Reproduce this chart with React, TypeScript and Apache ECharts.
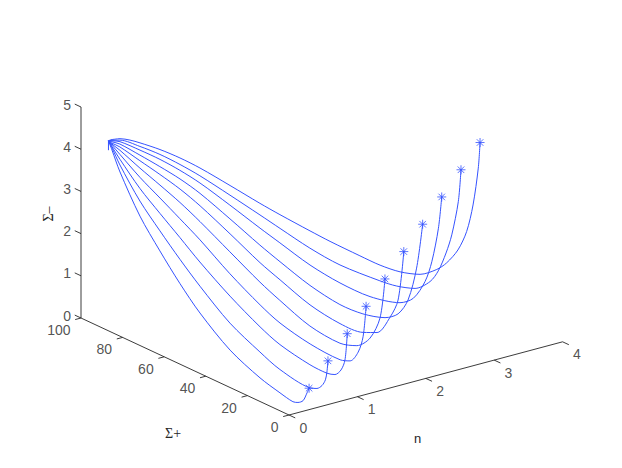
import React, { useEffect, useRef } from "react";
import * as echarts from "echarts";

type P3 = [number, number, number]; // n, Sigma+, Sigma-

const startStub: P3[] = [[0,86.8,4.28],[0,86.8,4.5]];

const curve1: P3[] = [[0,86.8,4.5],[.005,85.3,4.32],[.017,81.8,3.87],[.047,73.2,3.01],[.077,64.6,2.37],[.107,55.9,1.78],[.137,47.3,1.27],[.182,34.3,.67],[.227,21.4,.29],[.257,12.8,.12],[.276,7.2,.03],[.283,5.0,.06],[.291,2.8,.15],[.297,1.1,.37],[.3,.2,.5]];
const curve2: P3[] = [[0,86.8,4.5],[.01,85.4,4.36],[.031,82.3,4.02],[.086,74.5,3.32],[.141,66.7,2.77],[.195,58.8,2.25],[.25,51,1.77],[.332,39.3,1.13],[.414,27.6,.68],[.469,19.8,.42],[.551,8,.22],[.57,5.3,.26],[.583,3.3,.37],[.593,2,.53],[.597,1.4,.73],[.6,1,1]];
const curve3: P3[] = [[0,86.8,4.5],[.013,85.6,4.39],[.043,82.7,4.14],[.119,75.6,3.58],[.194,68.4,3.12],[.269,61.3,2.68],[.345,54.2,2.23],[.458,43.4,1.62],[.571,32.7,1.09],[.646,25.6,.8],[.759,14.9,.52],[.824,8.8,.43],[.854,6,.45],[.876,3.8,.6],[.891,2.4,.86],[.9,1.6,1.5]];
const curve4: P3[] = [[0,86.8,4.5],[.016,85.7,4.42],[.054,83,4.24],[.147,76.5,3.81],[.24,69.9,3.43],[.333,63.4,3.05],[.426,56.8,2.66],[.566,47,2.02],[.706,37.1,1.45],[.799,30.6,1.13],[.939,20.7,.8],[1.079,10.9,.59],[1.125,7.6,.62],[1.163,5,.87],[1.186,3.4,1.26],[1.2,2.4,2]];
const curve5: P3[] = [[0,86.8,4.5],[.019,85.7,4.44],[.062,83.3,4.33],[.171,77.3,4],[.279,71.2,3.69],[.388,65.2,3.37],[.496,59.1,3.01],[.659,50.1,2.43],[.822,41,1.85],[.93,35,1.51],[1.093,25.9,1.04],[1.256,16.8,.77],[1.348,11.7,.79],[1.419,7.7,1.03],[1.473,4.7,1.55],[1.5,3.2,2.5]];
const curve6: P3[] = [[0,86.8,4.5],[.021,85.8,4.46],[.07,83.6,4.4],[.192,78,4.15],[.314,72.4,3.9],[.436,66.7,3.63],[.558,61.1,3.31],[.741,52.7,2.76],[.924,44.3,2.19],[1.046,38.7,1.86],[1.229,30.3,1.38],[1.412,21.9,1.05],[1.552,15.4,.93],[1.637,11.5,.98],[1.717,7.8,1.4],[1.765,5.6,1.83],[1.8,4,3]];
const curve7: P3[] = [[0,86.8,4.5],[.023,85.9,4.49],[.077,83.8,4.46],[.211,78.6,4.26],[.344,73.4,4.05],[.478,68.1,3.82],[.612,62.9,3.54],[.812,55.1,3.03],[1.013,47.3,2.5],[1.146,42,2.17],[1.347,34.2,1.7],[1.547,26.4,1.34],[1.701,20.4,1.19],[1.848,14.6,1.17],[1.935,11.2,1.3],[2.002,8.6,1.66],[2.06,6.4,2.44],[2.1,4.8,3.5]];
const curve8: P3[] = [[0,86.8,4.5],[.025,85.9,4.51],[.083,84,4.51],[.227,79.1,4.36],[.371,74.2,4.19],[.515,69.4,3.98],[.659,64.5,3.73],[.875,57.2,3.28],[1.091,49.8,2.81],[1.235,45,2.51],[1.451,37.6,2.06],[1.667,30.3,1.71],[1.884,23,1.46],[2.1,15.7,1.39],[2.195,12.4,1.53],[2.28,9.6,1.95],[2.328,7.9,2.44],[2.376,6.3,3.25],[2.4,5.5,4]];
const curve9: P3[] = [[0,86.8,4.5],[.027,86,4.52],[.088,84.2,4.54],[.241,79.6,4.43],[.394,75,4.28],[.548,70.4,4.08],[.701,65.9,3.85],[.931,59,3.45],[1.16,52.1,3.04],[1.314,47.5,2.76],[1.543,40.7,2.35],[1.773,33.8,2.01],[2.08,24.7,1.71],[2.208,20.8,1.62],[2.348,16.6,1.6],[2.463,13.2,1.79],[2.526,11.3,2.06],[2.585,9.5,2.5],[2.629,8.2,2.94],[2.679,6.7,3.74],[2.7,6.1,4.5]];
const curve10: P3[] = [[0,86.8,4.5],[.02,86.3,4.53],[.052,85.4,4.55],[.093,84.3,4.57],[.174,82.2,4.55],[.254,80,4.5],[.416,75.7,4.37],[.577,71.4,4.2],[.739,67.1,3.99],[.981,60.6,3.62],[1.223,54.2,3.24],[1.385,49.9,3],[1.627,43.4,2.66],[1.789,39.1,2.44],[2.031,32.7,2.14],[2.192,28.3,1.95],[2.354,24,1.82],[2.515,19.7,1.79],[2.65,16.1,1.93],[2.731,14,2.1],[2.822,11.6,2.42],[2.892,9.7,2.87],[2.943,8.3,3.51],[2.986,7.2,4.39],[3,6.8,5]];

const curves = [curve1, curve2, curve3, curve4, curve5, curve6, curve7, curve8, curve9, curve10];

const nTicks = [0, 1, 2, 3, 4];
const sigmaPlusTicks = [0, 20, 40, 60, 80, 100];
const sigmaMinusTicks = [0, 1, 2, 3, 4, 5];

const BLUE = "#3553ff";
const INK = "#262626";
const FONT = "'Liberation Sans', Arial, sans-serif";

// Orthographic view of the 3-D box onto the page plane
const project = (n: number, s: number, z: number): [number, number] => [
  289 + 68.4 * n - 2.08 * s,
  415 - 18.3 * n - 0.97 * s - 42.2 * z,
];

const STAR =
  "path://M0 -4L0 4M-4 0L4 0M-2.9 -2.9L2.9 2.9M-2.9 2.9L2.9 -2.9";

const axisSeg = (a: P3, b: P3) => ({
  type: "line",
  data: [project(...a), project(...b)],
  showSymbol: false,
  silent: true,
  lineStyle: { color: INK, width: 0.9 },
});

const labels = (items: { p: [number, number]; text: string }[], align: string, offset: number[]) => ({
  type: "scatter",
  symbolSize: 1,
  silent: true,
  itemStyle: { color: "transparent" },
  data: items.map((d) => [d.p[0], d.p[1], d.text]),
  label: {
    show: true,
    position: "inside",
    align,
    verticalAlign: "middle",
    offset,
    formatter: (v: any) => v.data[2],
    color: INK,
    fontFamily: FONT,
    fontSize: 14,
  },
});

export default function App() {
  const ref = useRef<HTMLDivElement>(null);
  useEffect(() => {
    const chart = echarts.init(ref.current!, undefined, { renderer: "svg" });
    const series: any[] = [
      axisSeg([0, 0, 0], [4, 0, 0]),
      axisSeg([0, 0, 0], [0, 100, 0]),
      axisSeg([0, 100, 0], [0, 100, 5]),
      ...nTicks.map((t) => axisSeg([t, 0, 0], [t, -3, 0])),
      ...sigmaPlusTicks.map((t) => axisSeg([0, t, 0], [-0.085, t, 0])),
      ...sigmaMinusTicks.map((t) => axisSeg([0, 100, t], [0, 103, t])),
      {
        type: "line",
        data: startStub.map((p) => project(p[0], p[1], p[2])),
        showSymbol: false,
        silent: true,
        lineStyle: { color: BLUE, width: 1 },
      },
      ...curves.map((c) => ({
        type: "line",
        data: c.map((p) => project(p[0], p[1], p[2])),
        showSymbol: false,
        smooth: 0.3,
        silent: true,
        lineStyle: { color: BLUE, width: 1 },
      })),
      {
        type: "scatter",
        symbol: STAR,
        symbolSize: 9,
        silent: true,
        data: curves.map((c) => {
          const e = c[c.length - 1];
          return project(e[0], e[1], e[2]);
        }),
        itemStyle: { color: "none", borderColor: BLUE, borderWidth: 1 },
      },
      labels(nTicks.map((t) => ({ p: project(t, 0, 0), text: String(t) })), "center", [14.3, 12.6]),
      labels(sigmaPlusTicks.map((t) => ({ p: project(0, t, 0), text: String(t) })), "right", [-10.5, 12]),
      labels(sigmaMinusTicks.map((t) => ({ p: project(0, 100, t), text: String(t) })), "right", [-10, -2.5]),
    ];
    chart.setOption({
      animation: false,
      backgroundColor: "#ffffff",
      grid: { left: 0, right: 0, top: 0, bottom: 0 },
      xAxis: { type: "value", min: 0, max: 622, show: false },
      yAxis: { type: "value", min: 0, max: 468, inverse: true, show: false },
      series,
      graphic: [
        { type: "text", x: 417.5, y: 438, style: { text: "n", font: `13px ${FONT}`, fill: INK, align: "center", verticalAlign: "middle" } },
        { type: "text", x: 173, y: 433, style: { text: "Σ+", font: "14px 'Liberation Serif', serif", fill: INK, align: "center", verticalAlign: "middle" } },
        { type: "text", x: 48, y: 214, rotation: Math.PI / 2, style: { text: "Σ–", font: "14px 'Liberation Serif', serif", fill: INK, align: "center", verticalAlign: "middle" } },
      ],
    });
    return () => chart.dispose();
  }, []);
  return <div ref={ref} style={{ position: "absolute", left: 0, top: 0, width: 622, height: 468 }} />;
}
